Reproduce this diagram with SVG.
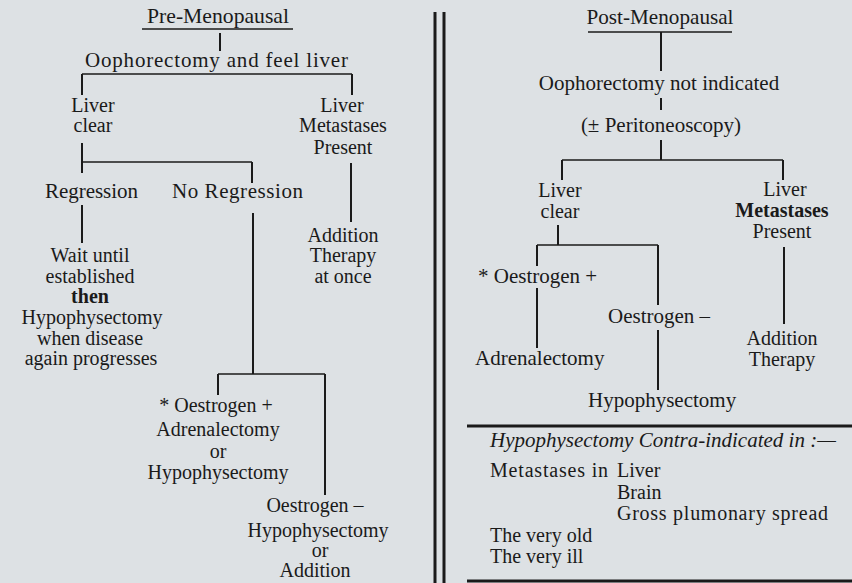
<svg xmlns="http://www.w3.org/2000/svg" width="852" height="583" viewBox="0 0 852 583">
<style>
text{font-family:"Liberation Serif","Times New Roman",serif;font-size:21px;fill:#1a1a1a}
.s{font-size:20px}
.c{text-anchor:middle}
.b{font-weight:bold}
.i{font-style:italic}
.ln{stroke:#1a1a1a;stroke-width:2;fill:none}
.h{stroke:#1a1a1a;stroke-width:1.6;fill:none}
.th{stroke:#1a1a1a;stroke-width:3;fill:none}
</style>
<rect width="852" height="583" fill="#dde1e4"/>
<g id="connectors">
<line class="h" x1="142" y1="29" x2="293" y2="29"/>
<line class="ln" x1="220" y1="33" x2="220" y2="51"/>
<line class="h" x1="82" y1="74" x2="352" y2="74"/>
<line class="ln" x1="82" y1="74" x2="82" y2="95"/>
<line class="ln" x1="352" y1="74" x2="352" y2="95"/>
<line class="ln" x1="82" y1="143" x2="82" y2="162"/>
<line class="h" x1="82" y1="162" x2="252" y2="162"/>
<line class="ln" x1="82" y1="162" x2="82" y2="173"/>
<line class="ln" x1="252" y1="162" x2="252" y2="183"/>
<line class="ln" x1="351" y1="163" x2="351" y2="222"/>
<line class="ln" x1="82" y1="205" x2="82" y2="243"/>
<line class="ln" x1="253" y1="213" x2="253" y2="374"/>
<line class="h" x1="218" y1="374" x2="325" y2="374"/>
<line class="ln" x1="218" y1="374" x2="218" y2="395"/>
<line class="ln" x1="325" y1="374" x2="325" y2="495"/>
<line class="th" x1="435" y1="12" x2="435" y2="583"/>
<line class="th" x1="444" y1="12" x2="444" y2="583"/>
<line class="h" x1="588" y1="32" x2="732" y2="32"/>
<line class="ln" x1="661" y1="32" x2="661" y2="71"/>
<line class="ln" x1="661" y1="98" x2="661" y2="110"/>
<line class="ln" x1="661" y1="140" x2="661" y2="160"/>
<line class="h" x1="562" y1="160" x2="783" y2="160"/>
<line class="ln" x1="562" y1="160" x2="562" y2="180"/>
<line class="ln" x1="783" y1="160" x2="783" y2="180"/>
<line class="ln" x1="558" y1="225" x2="558" y2="245"/>
<line class="h" x1="537" y1="245" x2="658" y2="245"/>
<line class="ln" x1="537" y1="245" x2="537" y2="266"/>
<line class="ln" x1="658" y1="245" x2="658" y2="305"/>
<line class="ln" x1="537" y1="288" x2="537" y2="348"/>
<line class="ln" x1="658" y1="330" x2="658" y2="390"/>
<line class="ln" x1="784" y1="247" x2="784" y2="324"/>
<line class="th" x1="467" y1="426" x2="852" y2="426"/>
<line class="th" x1="467" y1="581" x2="852" y2="581"/>
</g>
<g id="pre-menopausal"><text class="c" x="218" y="23" textLength="142" lengthAdjust="spacingAndGlyphs">Pre-Menopausal</text></g>
<g id="oophorectomy-feel-liver"><text x="85" y="67" textLength="263" lengthAdjust="spacing">Oophorectomy and feel liver</text></g>
<g id="pre-liver-clear"><text class="c s" x="93" y="112">Liver</text><text class="c s" x="93" y="132">clear</text></g>
<g id="pre-liver-metastases"><text class="c s" x="342" y="112">Liver</text><text class="c s" x="343" y="132">Metastases</text><text class="c s" x="343" y="154">Present</text></g>
<g id="regression"><text x="45" y="198" textLength="93" lengthAdjust="spacing">Regression</text></g>
<g id="no-regression"><text x="172" y="198" textLength="131" lengthAdjust="spacing">No Regression</text></g>
<g id="wait-until"><text class="c s" x="90" y="262">Wait until</text><text class="c s" x="90" y="283">established</text><text class="c s b" x="90" y="303">then</text><text class="c s" x="92" y="324">Hypophysectomy</text><text class="c s" x="90" y="345">when disease</text><text class="c s" x="91" y="365">again progresses</text></g>
<g id="pre-addition"><text class="c s" x="343" y="242">Addition</text><text class="c s" x="343" y="262">Therapy</text><text class="c s" x="343" y="283">at once</text></g>
<g id="pre-oestrogen-plus"><text class="c s" x="216" y="412">* Oestrogen +</text><text class="c s" x="218" y="436">Adrenalectomy</text><text class="c s" x="218" y="458">or</text><text class="c s" x="218" y="479">Hypophysectomy</text></g>
<g id="pre-oestrogen-minus"><text class="c s" x="315" y="512">Oestrogen –</text><text class="c s" x="318" y="537">Hypophysectomy</text><text class="c s" x="320" y="557">or</text><text class="c s" x="315" y="577">Addition</text></g>
<g id="post-menopausal"><text class="c" x="660" y="24" textLength="147" lengthAdjust="spacingAndGlyphs">Post-Menopausal</text></g>
<g id="oophorectomy-not-indicated"><text class="c" x="659" y="90">Oophorectomy not indicated</text></g>
<g id="peritoneoscopy"><text class="c" x="661" y="132">(± Peritoneoscopy)</text></g>
<g id="post-liver-clear"><text class="c s" x="560" y="197">Liver</text><text class="c s" x="560" y="218">clear</text></g>
<g id="post-liver-metastases"><text class="c s" x="785" y="196">Liver</text><text class="c s b" x="782" y="217">Metastases</text><text class="c s" x="782" y="238">Present</text></g>
<g id="post-oestrogen-plus"><text x="478" y="283">* Oestrogen +</text></g>
<g id="adrenalectomy"><text x="475" y="365">Adrenalectomy</text></g>
<g id="post-oestrogen-minus"><text x="608" y="323">Oestrogen –</text></g>
<g id="hypophysectomy"><text x="588" y="407">Hypophysectomy</text></g>
<g id="post-addition"><text class="c s" x="782" y="345">Addition</text><text class="c s" x="782" y="366">Therapy</text></g>
<g id="contra-indications">
<text class="i" x="490" y="447">Hypophysectomy Contra-indicated in :—</text>
<text class="s" x="490" y="477" textLength="118" lengthAdjust="spacing">Metastases in</text>
<text class="s" x="617" y="477">Liver</text>
<text class="s" x="617" y="499">Brain</text>
<text class="s" x="617" y="520" textLength="211" lengthAdjust="spacing">Gross plumonary spread</text>
<text class="s" x="490" y="542">The very old</text>
<text class="s" x="490" y="563">The very ill</text>
</g>
</svg>
